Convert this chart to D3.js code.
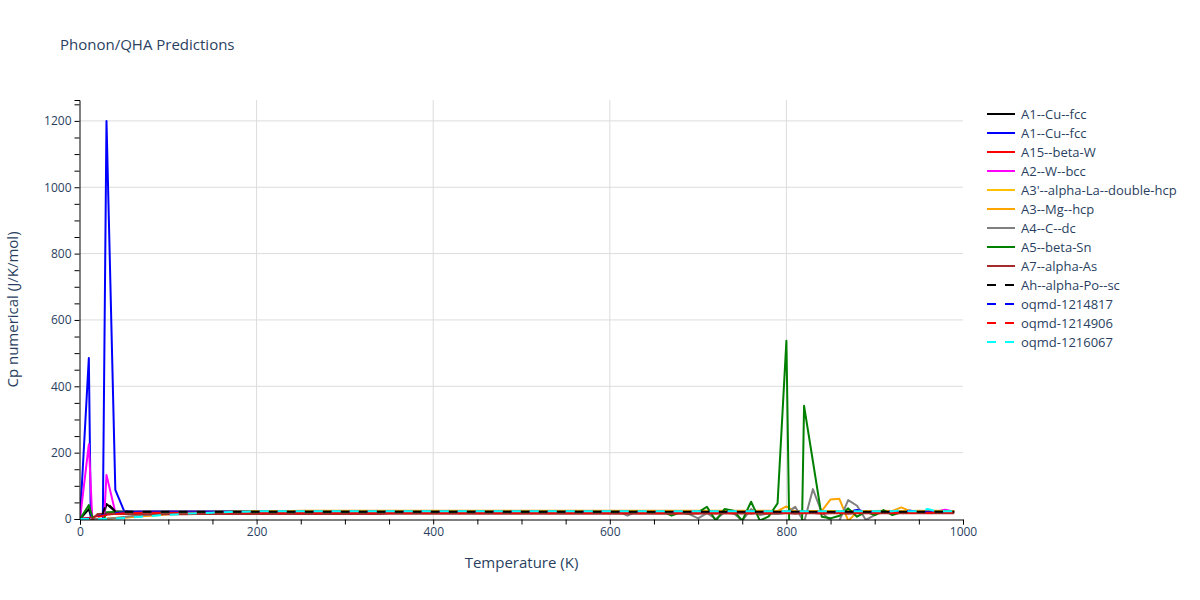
<!DOCTYPE html>
<html>
<head>
<meta charset="utf-8">
<script src="https://cdn.jsdelivr.net/npm/d3@7"></script>
<style>
  body { margin: 0; background: #fff; }
  text { font-family: "Open Sans", "Noto Sans", sans-serif; fill: #2a3f5f; }
</style>
</head>
<body>
<svg id="chart" width="1200" height="600"></svg>
<script>
// temperatures (K)
const temps = [
  0,10,20,30,40,50,60,70,80,90,
  100,110,120,130,140,150,160,170,180,190,
  200,210,220,230,240,250,260,270,280,290,
  300,310,320,330,340,350,360,370,380,390,
  400,410,420,430,440,450,460,470,480,490,
  500,510,520,530,540,550,560,570,580,590,
  600,610,620,630,640,650,660,670,680,690,
  700,710,720,730,740,750,760,770,780,790,
  800,810,820,830,840,850,860,870,880,890,
  900,910,920,930,940,950,960,970,980,990
];

const seriesNames = [
  "A1--Cu--fcc", "A1--Cu--fcc", "A15--beta-W", "A2--W--bcc",
  "A3'--alpha-La--double-hcp", "A3--Mg--hcp", "A4--C--dc", "A5--beta-Sn",
  "A7--alpha-As", "Ah--alpha-Po--sc", "oqmd-1214817", "oqmd-1214906", "oqmd-1216067"
];

const cuFcc1 = [
  0,30,-60,45,23,22,22,22,22,22,
  22,22,22,22,22,22,22,22,22,22,
  21,21,21,21,21,21,21,21,21,21,
  21,21,21,21,21,21,21,21,21,21,
  21,21,21,21,21,21,21,21,21,21,
  21,21,21,21,21,21,21,21,21,21,
  21,21,21,21,21,21,21,21,21,21,
  21,21,21,21,21,21,21,21,21,21,
  21,21,21,21,21,21,21,21,21,21,
  21,21,22,21,21,22,21,22,21,22
];
const cuFcc2 = [
  0,485,-1700,1200,88,24,22,22,22,22,
  22,22,22,22,22,22,22,22,22,22,
  22,22,22,22,22,22,22,22,22,22,
  22,22,22,22,22,22,22,22,22,22,
  22,22,22,22,22,22,22,22,22,22,
  22,22,22,22,22,22,22,22,22,22,
  22,22,22,22,22,22,22,22,22,22,
  22,22,22,22,22,22,22,22,22,22,
  22,22,22,22,22,24,22,22,26,22,
  22,24,22,22,25,22,24,22,24,22
];
const betaW = [
  0,3,9,13,16,18,19,19,19,19,
  19,19,19,19,19,19,19,19,19,19,
  19,19,19,19,19,19,19,19,19,19,
  19,19,19,19,19,19,19,19,19,19,
  19,19,19,19,19,19,19,19,19,19,
  19,19,19,19,19,19,19,19,19,19,
  19,20,19,19,20,19,19,20,19,20,
  19,20,19,20,19,19,20,19,20,19,
  20,19,20,19,20,19,20,19,19,20,
  19,20,19,20,19,20,19,20,19,20
];
const wBcc = [
  0,225,-350,133,20,22,22,22,22,22,
  22,22,22,22,22,22,22,22,22,22,
  22,22,22,22,22,22,22,22,22,22,
  22,22,22,22,22,22,22,22,22,22,
  22,22,22,22,22,22,22,22,22,22,
  22,22,22,22,22,22,22,22,22,22,
  22,22,22,22,22,22,22,22,22,22,
  22,22,22,22,22,22,22,22,22,22,
  22,22,22,22,22,22,22,22,22,22,
  22,22,22,22,22,23,22,23,28,22
];
const laDhcp = [
  0,0,0,1,3,5,8,10,12,14,
  16,17,18,19,20,21,21,22,22,23,
  23,23,23,24,24,24,24,24,24,24,
  24,24,24,24,24,24,24,24,24,24,
  24,24,24,24,24,24,24,24,24,24,
  24,24,24,24,24,24,24,24,24,24,
  24,24,24,24,24,24,24,24,24,24,
  24,24,24,24,24,24,24,24,24,24,
  24,24,24,24,24,24,24,24,24,24,
  24,24,24,24,24,24,24,24,24,24
];
const mgHcp = [
  0,0,0,1,2,4,6,8,10,12,
  14,15,16,17,18,19,20,21,22,23,
  23,24,24,24,24,25,25,25,25,25,
  25,25,25,25,25,25,25,25,25,25,
  25,25,25,25,25,25,25,25,25,25,
  25,25,25,25,25,25,25,25,25,25,
  25,25,25,25,25,25,25,25,25,25,
  25,25,25,25,25,25,25,25,25,24,
  38,22,24,24,24,59,61,-5,20,24,
  24,25,24,35,24,25,24,25,24,24
];
const cDc = [
  0,0,0,1,3,6,9,11,13,15,
  17,18,19,20,21,21,22,22,22,22,
  22,22,22,22,22,22,22,22,22,22,
  22,22,22,22,22,22,22,22,22,22,
  22,22,22,22,22,22,22,22,22,22,
  22,22,22,22,22,22,22,22,22,22,
  22,22,10,22,20,18,22,16,22,15,
  2,18,0,20,18,-5,30,12,17,15,
  18,37,-10,90,20,-5,-5,57,40,-3,
  12,22,20,22,21,22,22,22,21,22
];
const betaSn = [
  0,42,-47,20,21,22,22,22,22,22,
  22,22,22,22,22,22,22,22,22,22,
  22,22,22,22,22,22,22,22,22,22,
  22,22,22,22,22,22,22,22,22,22,
  22,22,22,22,22,22,22,22,22,22,
  22,22,22,22,22,22,22,22,22,22,
  22,22,22,22,20,18,22,10,20,15,
  20,37,-5,30,25,-5,52,-5,8,47,
  537,-1200,341,174,7,2,10,32,7,22,
  12,27,12,20,22,21,22,22,22,22
];
const alphaAs = [
  0,-10,15,16,16,15,15,14,14,14,
  14,14,14,15,15,15,15,15,15,15,
  15,15,15,15,15,15,15,15,15,15,
  15,15,15,15,15,16,16,16,16,16,
  16,16,16,16,16,16,16,16,16,16,
  16,16,16,16,16,16,16,16,16,16,
  16,16,16,16,16,16,16,16,16,16,
  16,17,16,17,16,17,16,17,16,17,
  17,16,17,17,16,17,17,16,17,17,
  17,17,17,17,17,17,17,17,17,17
];
const poSc = [
  0,0,-30,50,23,22,22,22,22,22,
  22,22,22,22,22,22,22,22,22,22,
  21.5,21.5,21.5,21.5,21.5,21.5,21.5,21.5,21.5,21.5,
  21.5,21.5,21.5,21.5,21.5,21.5,21.5,21.5,21.5,21.5,
  21.5,21.5,21.5,21.5,21.5,21.5,21.5,21.5,21.5,21.5,
  21.5,21.5,21.5,21.5,21.5,21.5,21.5,21.5,21.5,21.5,
  21.5,21.5,21.5,21.5,21.5,21.5,21.5,21.5,21.5,21.5,
  21.5,21.5,21.5,21.5,21.5,21.5,21.5,21.5,21.5,21.5,
  21.5,21.5,21.5,21.5,21.5,21.5,21.5,21.5,21.5,21.5,
  21.5,21.5,21.5,21.5,21.5,21.5,21.5,21.5,21.5,21.5
];
const oqmd1214817 = [
  0,2,8,14,18,20,21,22,22,22,
  22,22,22,22,22,22,22,22,22,22,
  22,22,22,22,22,22,22,22,22,22,
  22,22,22,22,22,22,22,22,22,22,
  22,22,22,22,22,22,22,22,22,22,
  22,22,22,22,22,22,22,22,22,22,
  22,22,22,22,22,22,22,22,22,22,
  22,22,22,22,22,22,22,22,22,22,
  22,22,22,22,22,22,22,22,27,22,
  22,22,22,22,25,22,22,22,22,22
];
const oqmd1214906 = [
  0,2,7,12,15,17,18,19,19,19,
  19,19,19,19,19,19,19,19,19,19,
  19,19,19,19,19,19,19,19,19,19,
  19,19,19,19,19,19,19,19,19,19,
  19,19,19,19,19,19,19,19,19,19,
  19,19,19,19,19,19,19,19,19,19,
  19,19,19,19,19,19,19,19,19,19,
  19,19,19,19,19,19,19,19,19,19,
  19,19,19,19,19,19,19,19,19,19,
  19,19,19,19,19,19,19,20,20,20
];
const oqmd1216067 = [
  0,0,0,0,1,3,5,7,9,11,
  13,14,16,17,18,19,20,21,22,22,
  23,23,23,23,23,23,23,23,23,23,
  23,23,23,23,23,23,23,23,23,23,
  23,23,23,23,23,23,23,23,23,23,
  23,23,23,23,23,23,23,23,23,23,
  23,23,23,23,23,23,23,23,23,23,
  23,23,23,23,23,23,23,23,23,23,
  23,23,23,23,23,23,23,23,23,23,
  23,23,23,27,23,23,30,23,23,23
];

const seriesValues = [cuFcc1, cuFcc2, betaW, wBcc, laDhcp, mgHcp, cDc, betaSn,
  alphaAs, poSc, oqmd1214817, oqmd1214906, oqmd1216067];
const seriesColors = ["#000000", "#0000ff", "#ff0000", "#ff00ff", "#ffc000", "#ffa500",
  "#808080", "#008000", "#a52a2a", "#000000", "#0000ff", "#ff0000", "#00ffff"];
const seriesDashed = [false, false, false, false, false, false, false, false, false,
  true, true, true, true];

const xTicks = [0, 200, 400, 600, 800, 1000];
const yTicks = [0, 200, 400, 600, 800, 1000, 1200];

// plot area
const plotLeft = 80, plotRight = 963, plotTop = 100, plotBottom = 519;
const svg = d3.select("#chart");

const x = d3.scaleLinear().domain([0, 1000]).range([plotLeft, plotRight]);
const y = d3.scaleLinear().domain([0, 1263]).range([plotBottom, plotTop]);

svg.append("rect").attr("width", 1200).attr("height", 600).attr("fill", "#fff");

// grid
svg.append("g")
  .selectAll("line")
  .data(xTicks.filter(d => d > 0 && d < 1000))
  .enter().append("line")
  .attr("x1", d => x(d)).attr("x2", d => x(d))
  .attr("y1", plotTop).attr("y2", plotBottom)
  .attr("stroke", "#dcdcdc").attr("stroke-width", 1);
svg.append("g")
  .selectAll("line")
  .data(yTicks.filter(d => d > 0))
  .enter().append("line")
  .attr("x1", plotLeft).attr("x2", plotRight)
  .attr("y1", d => y(d)).attr("y2", d => y(d))
  .attr("stroke", "#dcdcdc").attr("stroke-width", 1);

// series, clipped to the plot area like the original
svg.append("defs").append("clipPath").attr("id", "plot-clip")
  .append("rect").attr("x", plotLeft).attr("y", plotTop)
  .attr("width", plotRight - plotLeft).attr("height", plotBottom - plotTop + 1);

const line = d3.line()
  .x((d, i) => x(temps[i]))
  .y(d => y(d));

svg.append("g")
  .attr("clip-path", "url(#plot-clip)")
  .selectAll("path")
  .data(seriesValues)
  .enter().append("path")
  .attr("d", line)
  .attr("fill", "none")
  .attr("stroke", (d, i) => seriesColors[i])
  .attr("stroke-width", 2)
  .attr("stroke-linejoin", "round")
  .attr("stroke-dasharray", (d, i) => seriesDashed[i] ? "9,9" : null);

// axes
const xAxis = svg.append("g")
  .attr("transform", "translate(0," + (plotBottom + 0.5) + ")")
  .call(d3.axisBottom(x).tickValues(d3.range(0, 1001, 50))
    .tickSize(5).tickFormat(d => xTicks.includes(d) ? d : ""));
const yAxis = svg.append("g")
  .attr("transform", "translate(" + (plotLeft - 0.5) + ",0)")
  .call(d3.axisLeft(y).tickValues(d3.range(0, 1251, 50))
    .tickSize(5).tickFormat(d => yTicks.includes(d) ? d : ""));

[xAxis, yAxis].forEach(a => {
  a.select(".domain").attr("stroke", "#000");
  a.selectAll(".tick line").attr("stroke", "#000");
  a.selectAll(".tick text")
    .attr("font-size", 12)
    .attr("font-family", "\"Open Sans\", sans-serif")
    .attr("fill", "#2a3f5f");
});
xAxis.selectAll(".tick text").attr("y", 8);
yAxis.selectAll(".tick text").attr("x", -8);

// titles
svg.append("text")
  .attr("x", 60).attr("y", 50)
  .attr("font-size", 15)
  .text("Phonon/QHA Predictions");
svg.append("text")
  .attr("x", (plotLeft + plotRight) / 2).attr("y", 568)
  .attr("text-anchor", "middle")
  .attr("font-size", 15)
  .text("Temperature (K)");
svg.append("text")
  .attr("transform", "translate(18," + ((plotTop + plotBottom) / 2) + ") rotate(-90)")
  .attr("text-anchor", "middle")
  .attr("font-size", 15)
  .text("Cp numerical (J/K/mol)");

// legend
const legend = svg.append("g")
  .selectAll("g")
  .data(seriesNames)
  .enter().append("g")
  .attr("transform", (d, i) => "translate(987," + (114 + i * 19) + ")");
legend.append("line")
  .attr("x1", 0).attr("x2", 28)
  .attr("stroke", (d, i) => seriesColors[i])
  .attr("stroke-width", 2)
  .attr("stroke-dasharray", (d, i) => seriesDashed[i] ? "9,9" : null);
legend.append("text")
  .attr("x", 34).attr("dy", "0.35em")
  .attr("font-size", 13)
  .text(d => d);
</script>
</body>
</html>
